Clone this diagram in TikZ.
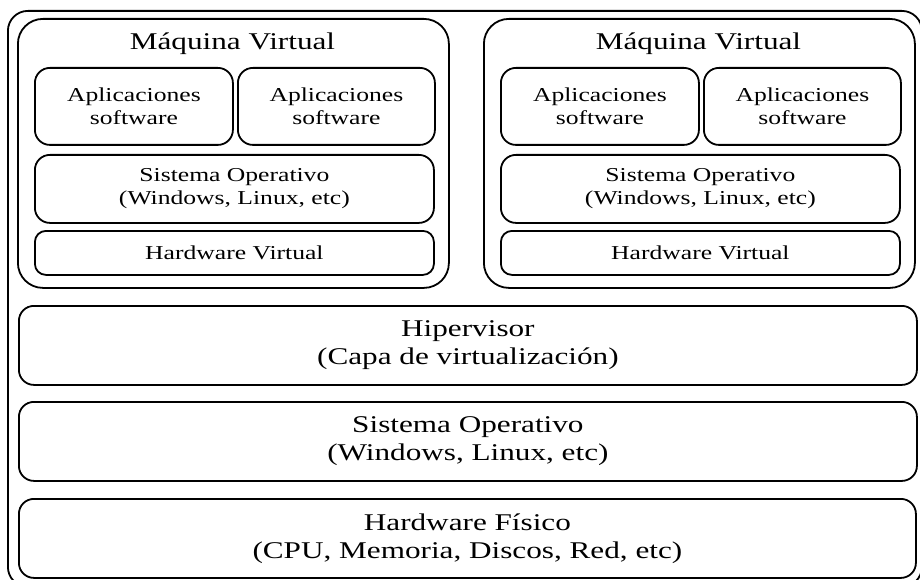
\documentclass[tikz,border=0pt]{standalone}
\usepackage{fontspec}
\setmainfont[FakeStretch=1.3]{Liberation Serif}
\begin{document}
\begin{tikzpicture}[x=1pt,y=1pt,
  layer/.style={draw, line width=1.8pt, rounded corners=#1, inner sep=0pt,
    align=center, anchor=north west},
  layer/.default=15pt,
  bigtext/.style={font=\fontsize{24}{27.7}\selectfont},
  smalltext/.style={font=\fontsize{19.7}{23}\selectfont},
]
\useasboundingbox (0,0) rectangle (920,-580);
\clip (0,0) rectangle (920,-580);

% outer frame (runs off the right and bottom edges)
\node[layer=20pt, minimum width=914pt, minimum height=576pt] (frame) at (7,-10) {};

% virtual machines
\foreach \n/\x in {vmA/17, vmB/483}{
  \node[layer=25pt, minimum width=431pt, minimum height=269pt] (\n) at (\x,-18) {};
}
\node[bigtext] (titleA) at (232.5,-44) {Máquina Virtual};
\node[bigtext] (titleB) at (698.5,-44) {Máquina Virtual};

% contents of each virtual machine
\foreach \n/\x in {A/34, B/500}{
  \node[layer, smalltext, minimum width=198pt, minimum height=77pt] (appl\n) at (\x,-67)
    {Aplicaciones\\software};
  \node[layer, smalltext, minimum width=197pt, minimum height=77pt] (appr\n) at (\x+203,-67)
    {Aplicaciones\\software};
  \node[layer, smalltext, minimum width=399pt, minimum height=68pt] (so\n) at (\x,-154)
    {Sistema Operativo\\(Windows, Linux, etc)};
  \node[layer=11pt, smalltext, minimum width=399pt, minimum height=44pt] (hw\n) at (\x,-230)
    {Hardware Virtual};
}

% host layers
\node[layer, bigtext, minimum width=898pt, minimum height=79pt] (hyp) at (18,-305)
  {Hipervisor\\(Capa de virtualización)};
\node[layer, bigtext, minimum width=898pt, minimum height=79pt] (hostso) at (18,-401)
  {Sistema Operativo\\(Windows, Linux, etc)};
\node[layer, bigtext, minimum width=897pt, minimum height=79pt] (hostsw) at (18,-498)
  {Hardware Físico\\(CPU, Memoria, Discos, Red, etc)};
\end{tikzpicture}
\end{document}
